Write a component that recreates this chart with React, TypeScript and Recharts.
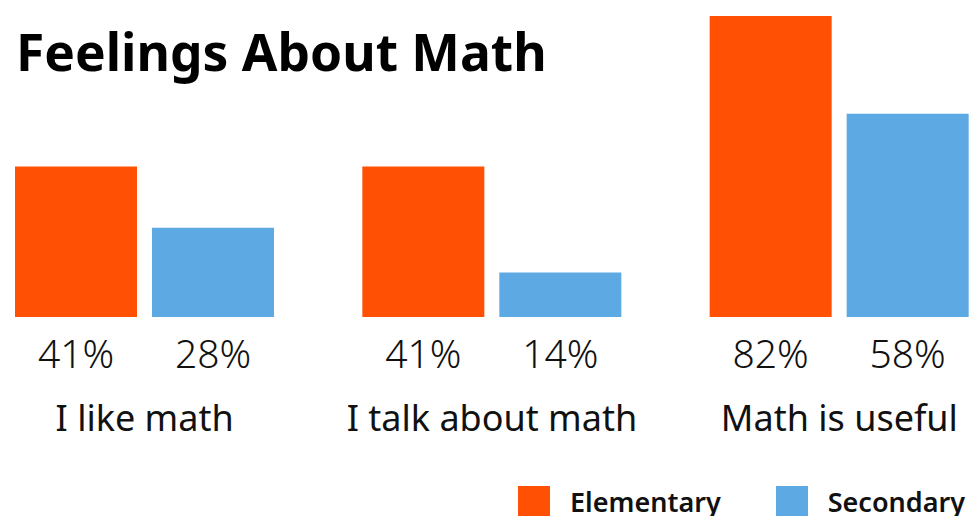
import { BarChart, Bar, XAxis, YAxis, LabelList } from "recharts";

// Survey groups shown along the x axis
const CATEGORIES = ["I like math", "I talk about math", "Math is useful"];

// Bar heights (percent)
const ELEMENTARY = [41, 41, 82];
const SECONDARY = [24.3, 12.1, 55.4];

// Printed value labels under each bar
const ELEMENTARY_LABELS = ["41%", "41%", "82%"];
const SECONDARY_LABELS = ["28%", "14%", "58%"];

const ORANGE = "#ff5003";
const BLUE = "#5da9e3";
const FONT = "'Noto Sans', 'Open Sans', sans-serif";

const chartData = CATEGORIES.map((category, i) => ({
  category,
  elementary: ELEMENTARY[i],
  secondary: SECONDARY[i],
  elementaryLabel: ELEMENTARY_LABELS[i],
  secondaryLabel: SECONDARY_LABELS[i],
}));

function ValueLabel(props: any) {
  const { x, y, width, height, value } = props;
  return (
    <text
      x={x + width / 2}
      y={y + height + 51}
      textAnchor="middle"
      fontFamily={FONT}
      fontWeight={300}
      fontSize={39}
      fill="#111"
    >
      {value}
    </text>
  );
}

function CategoryTick(props: any) {
  const { x, y, payload } = props;
  return (
    <text
      x={x}
      y={y + 114}
      textAnchor="middle"
      fontFamily={FONT}
      fontSize={36}
      fill="#111"
    >
      {payload.value}
    </text>
  );
}

function LegendItem({ color, label }: { color: string; label: string }) {
  return (
    <div style={{ display: "flex", alignItems: "flex-start" }}>
      <div style={{ width: 32, height: 32, background: color }} />
      <span
        style={{
          marginLeft: 20,
          fontFamily: FONT,
          fontWeight: 600,
          fontSize: 27,
          lineHeight: "30px",
          marginTop: 1,
          color: "#111",
        }}
      >
        {label}
      </span>
    </div>
  );
}

export default function App() {
  return (
    <div
      style={{
        position: "absolute",
        left: 0,
        top: 0,
        width: 970,
        height: 516,
        overflow: "hidden",
        background: "#fff",
      }}
    >
      <div
        style={{
          position: "absolute",
          left: 16,
          top: 16,
          fontFamily: FONT,
          fontWeight: 700,
          fontSize: 51.5,
          lineHeight: "70px",
          color: "#000",
          whiteSpace: "nowrap",
        }}
      >
        Feelings About Math
      </div>
      <BarChart
        width={970}
        height={516}
        data={chartData}
        margin={{ top: 16, right: -43, bottom: 198, left: -29 }}
        barSize={122}
        barGap={15}
        barCategoryGap={0}
      >
        <XAxis
          dataKey="category"
          axisLine={false}
          tickLine={false}
          tickSize={0}
          tickMargin={0}
          height={1}
          interval={0}
          tick={<CategoryTick />}
        />
        <YAxis hide domain={[0, 82]} />
        <Bar dataKey="elementary" fill={ORANGE} isAnimationActive={false}>
          <LabelList dataKey="elementaryLabel" content={<ValueLabel />} />
        </Bar>
        <Bar dataKey="secondary" fill={BLUE} isAnimationActive={false}>
          <LabelList dataKey="secondaryLabel" content={<ValueLabel />} />
        </Bar>
      </BarChart>
      <div
        style={{
          position: "absolute",
          left: 518,
          top: 486,
          display: "flex",
          gap: 55,
        }}
      >
        <LegendItem color={ORANGE} label="Elementary" />
        <LegendItem color={BLUE} label="Secondary" />
      </div>
    </div>
  );
}
